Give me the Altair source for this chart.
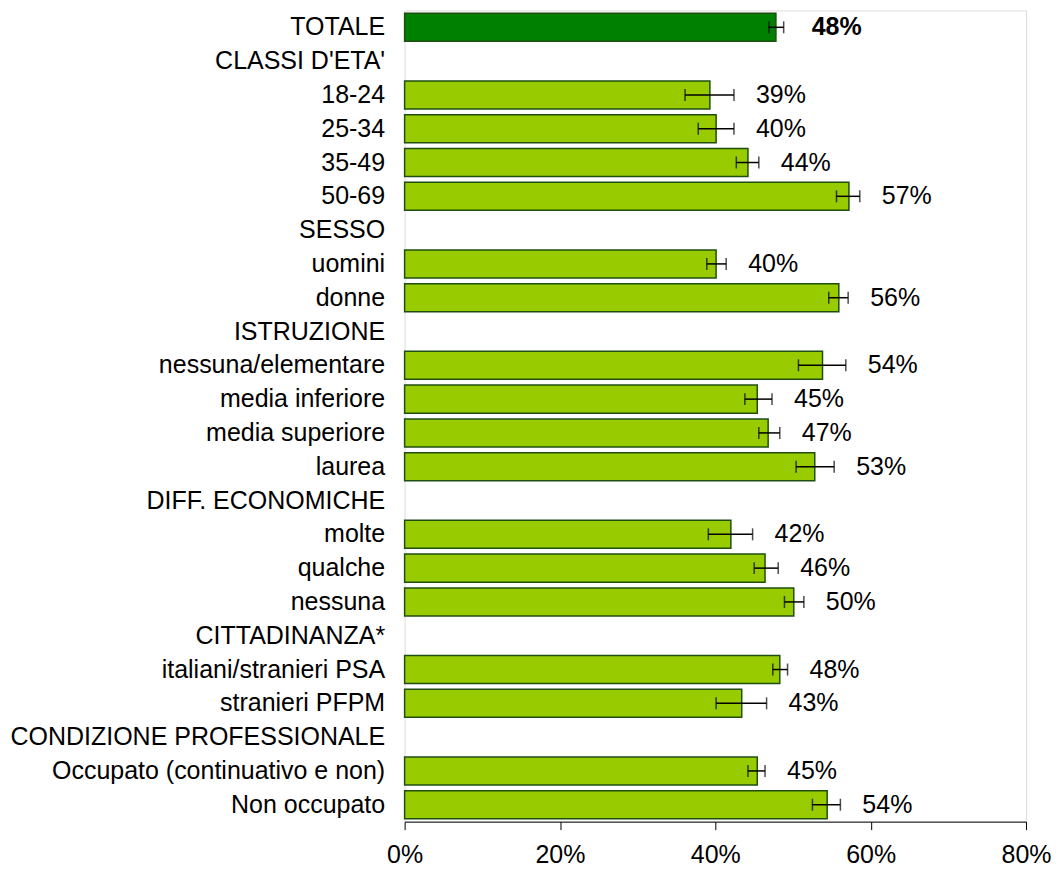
import altair as alt
import pandas as pd

categories = [
    "TOTALE", "CLASSI D'ETA'", "18-24", "25-34", "35-49", "50-69",
    "SESSO", "uomini", "donne",
    "ISTRUZIONE", "nessuna/elementare", "media inferiore", "media superiore", "laurea",
    "DIFF. ECONOMICHE", "molte", "qualche", "nessuna",
    "CITTADINANZA*", "italiani/stranieri PSA", "stranieri PFPM",
    "CONDIZIONE PROFESSIONALE", "Occupato (continuativo e non)", "Non occupato",
]
values = [47.8, None, 39.3, 40.1, 44.2, 57.2,
          None, 40.1, 55.9,
          None, 53.8, 45.4, 46.8, 52.8,
          None, 42.0, 46.4, 50.1,
          None, 48.3, 43.4,
          None, 45.4, 54.4]
lows = [46.9, None, 36.1, 37.8, 42.7, 55.6,
        None, 38.9, 54.6,
        None, 50.7, 43.8, 45.6, 50.4,
        None, 39.1, 45.0, 48.9,
        None, 47.4, 40.1,
        None, 44.2, 52.5]
highs = [48.8, None, 42.4, 42.4, 45.6, 58.6,
         None, 41.4, 57.1,
         None, 56.8, 47.3, 48.3, 55.3,
         None, 44.8, 48.1, 51.4,
         None, 49.3, 46.6,
         None, 46.4, 56.1]
tick_values = [0, 20, 40, 60, 80]

df = pd.DataFrame({"cat": categories, "value": values, "lo": lows, "hi": highs})
bars_df = df.dropna().copy()

FONT = "Liberation Sans"

x_axis = alt.Axis(
    values=tick_values, labelExpr="datum.value + '%'", grid=False, title=None,
    tickSize=8, tickColor="black", domainColor="black", labelPadding=13,
    labelFlush=False, labelOverlap=False,
    labelFont=FONT, labelFontSize=25, labelColor="black",
)
x_scale = alt.Scale(domain=[0, 80], nice=False)
y_enc = alt.Y(
    "cat:N",
    scale=alt.Scale(domain=categories, paddingInner=0.17, paddingOuter=0.085),
    axis=alt.Axis(title=None, domain=False, ticks=False, labelFont=FONT,
                  labelFontSize=25, labelColor="black", labelPadding=20,
                  labelLimit=0),
)

base = alt.Chart(bars_df).transform_calculate(
    label="format(datum.value, '.0f') + '%'"
)

bars = base.mark_bar(stroke="#1f4f10", strokeWidth=1.5).encode(
    x=alt.X("value:Q", scale=x_scale, axis=x_axis),
    y=y_enc,
    color=alt.condition("datum.cat == 'TOTALE'", alt.value("#008000"), alt.value("#99CC00")),
)

rule = base.mark_rule(color="black", strokeWidth=1.5).encode(
    x=alt.X("lo:Q", scale=x_scale, axis=x_axis),
    x2="hi:Q",
    y=y_enc,
)
cap_lo = base.mark_tick(color="black", thickness=1.5, size=12).encode(
    x=alt.X("lo:Q", scale=x_scale, axis=x_axis), y=y_enc)
cap_hi = base.mark_tick(color="black", thickness=1.5, size=12).encode(
    x=alt.X("hi:Q", scale=x_scale, axis=x_axis), y=y_enc)

text_norm = base.transform_filter("datum.cat != 'TOTALE'").mark_text(
    align="left", baseline="middle", dx=22, font=FONT, fontSize=25, color="black"
).encode(x=alt.X("hi:Q", scale=x_scale, axis=x_axis), y=y_enc, text="label:N")

text_bold = base.transform_filter("datum.cat == 'TOTALE'").mark_text(
    align="left", baseline="middle", dx=28, font=FONT, fontSize=25,
    fontWeight="bold", color="black"
).encode(x=alt.X("hi:Q", scale=x_scale, axis=x_axis), y=y_enc, text="label:N")

chart = alt.layer(bars, rule, cap_lo, cap_hi, text_norm, text_bold).properties(
    width=622, height=812,
    padding={"left": 1, "top": 2, "right": 0, "bottom": 0},
).configure_view(stroke=None).configure(background="white")

chart.save("out.html", embed_options={"renderer": "svg", "actions": False})
